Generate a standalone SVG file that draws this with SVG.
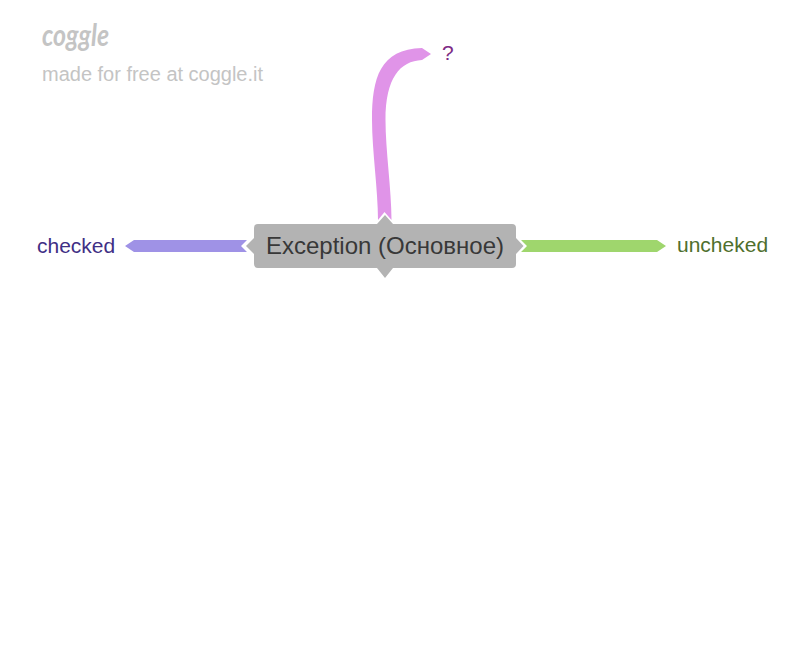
<svg xmlns="http://www.w3.org/2000/svg" width="810" height="649" viewBox="0 0 810 649">
<style>
text{font-family:"Liberation Sans",Arial,sans-serif}
.lbl{font-size:21px}
.wm{fill:#c4c4c4}
</style>
<rect width="810" height="649" fill="#fff"/>
<g id="watermark">
<text class="wm" x="42" y="46" style="font-family:Lato,sans-serif;font-style:italic;font-weight:bold" font-size="30" textLength="67" lengthAdjust="spacingAndGlyphs">coggle</text>
<text class="wm" x="42" y="81" font-size="20" textLength="221" lengthAdjust="spacing">made for free at coggle.it</text>
</g>
<g id="connectors">
<path d="M378 220C378 190 372 150 372 120C372 78 380 49 422 48L431 54L422 60C400 61 385.500 78 385.500 120C385.500 150 391.500 190 391.500 220L384.500 212Z" fill="#e094e8"/>
<path d="M521 240H657L666 246L657 252H521L527 246Z" fill="#9fd66d"/>
<path d="M247 240H134L125 246L134 252H247L241 246Z" fill="#9f92e6"/>
</g>
<g id="node-root">
<path d="M385 215L393 224H512Q516 224 516 228V238L523.500 246L516 254V264Q516 268 512 268H393L385 278L377 268H258Q254 268 254 264V254L246 246L254 238V228Q254 224 258 224H377Z" fill="#b3b3b3" stroke="#fff" stroke-width="1.500" paint-order="stroke"/>
<text x="385" y="254" text-anchor="middle" font-size="24" fill="#383838">Exception (Основное)</text>
</g>
<g id="node-question"><text class="lbl" x="442" y="60" fill="#7d2a85">?</text></g>
<g id="node-checked"><text class="lbl" x="37" y="253" fill="#3f2f85">checked</text></g>
<g id="node-uncheked"><text class="lbl" x="677" y="252" fill="#4f6f2d">uncheked</text></g>
</svg>
